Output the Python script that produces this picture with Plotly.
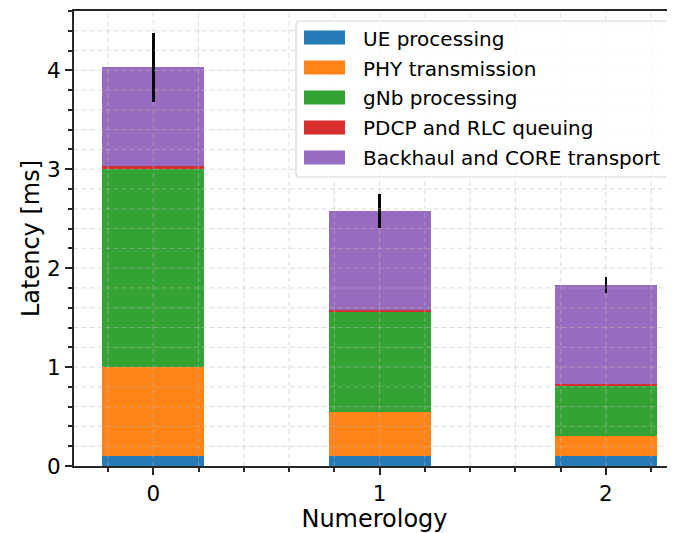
import plotly.graph_objects as go

numerology = [0, 1, 2]
tick_labels = ["0", "1", "2"]
ue_processing = [0.10, 0.10, 0.10]
phy_transmission = [0.90, 0.45, 0.20]
gnb_processing = [2.00, 1.01, 0.51]
pdcp_rlc_queuing = [0.03, 0.02, 0.02]
backhaul_core = [1.00, 1.00, 1.00]
total_error = [0.35, 0.17, 0.08]

series = [
    ("UE processing", ue_processing, "#1f77b4"),
    ("PHY transmission", phy_transmission, "#ff7f0e"),
    ("gNb processing", gnb_processing, "#2ca02c"),
    ("PDCP and RLC queuing", pdcp_rlc_queuing, "#d62728"),
    ("Backhaul and CORE transport", backhaul_core, "#9467bd"),
]
OPACITY = 0.97

# the page body has an 8px default margin: size the figure so it fills the window
OFF = 8
WIN_W, WIN_H = 675, 533
W, H = WIN_W - OFF, WIN_H - OFF
L, R, T, B = 74 - OFF, 0, 11 - OFF, 67
PW, PH = W - L - R, H - T - B
X_RANGE = [-0.35, 2.305]
Y_RANGE = [0, 4.6]


def px(x):  # window pixel -> paper x
    return (x - OFF - L) / PW


def py(y):  # window pixel -> paper y
    return (OFF + T + PH - y) / PH


fig = go.Figure()
for i, (name, vals, color) in enumerate(series):
    kw = {}
    if i == len(series) - 1:
        kw["error_y"] = dict(type="data", array=total_error, visible=True,
                             color="black", thickness=2.8, width=0)
    fig.add_trace(go.Bar(
        x=numerology, y=vals, name=name, width=0.45, showlegend=False,
        marker=dict(color=color, line=dict(width=0)), opacity=OPACITY, **kw))

# totals, used only to leave the error bars uncovered by the grid overlay
totals = [sum(s[1][j] for s in series) for j in range(len(numerology))]

# grid drawn above the bars (matplotlib default zorder)
GRID = dict(color="rgba(190,190,190,0.5)", width=1, dash="5px,3px")
shapes = []
gx = -0.2
while gx < X_RANGE[1]:
    if gx in numerology:
        j = numerology.index(gx)
        for a, b in [(Y_RANGE[0], totals[j] - total_error[j]), (totals[j] + total_error[j], Y_RANGE[1])]:
            shapes.append(dict(type="line", xref="x", yref="y", x0=gx, x1=gx, y0=a, y1=b,
                               line=GRID, layer="above"))
    else:
        shapes.append(dict(type="line", xref="x", yref="paper", x0=gx, x1=gx, y0=0, y1=1,
                           line=GRID, layer="above"))
    gx = round(gx + 0.2, 6)
gy = 0.2
while gy < Y_RANGE[1]:
    shapes.append(dict(type="line", xref="paper", yref="y", x0=0, x1=1, y0=gy, y1=gy,
                       line=GRID, layer="above"))
    gy = round(gy + 0.2, 6)

# custom legend (matplotlib style)
x0, x1, y0, y1, r = 296, 674, 21, 177, 4
path = (f"M {px(x0 + r)},{py(y0)} L {px(x1 - r)},{py(y0)} "
        f"Q {px(x1)},{py(y0)} {px(x1)},{py(y0 + r)} L {px(x1)},{py(y1 - r)} "
        f"Q {px(x1)},{py(y1)} {px(x1 - r)},{py(y1)} L {px(x0 + r)},{py(y1)} "
        f"Q {px(x0)},{py(y1)} {px(x0)},{py(y1 - r)} L {px(x0)},{py(y0 + r)} "
        f"Q {px(x0)},{py(y0)} {px(x0 + r)},{py(y0)} Z")
shapes.append(dict(type="path", xref="paper", yref="paper", path=path,
                   fillcolor="rgba(255,255,255,0.8)", line=dict(color="#d5d5d5", width=1.2),
                   layer="above"))
annotations = []
for k, (name, vals, color) in enumerate(series):
    cy = 37.5 + 30 * k
    shapes.append(dict(type="rect", xref="paper", yref="paper",
                       x0=px(304), x1=px(345), y0=py(cy - 7), y1=py(cy + 7),
                       fillcolor=color, opacity=OPACITY, line=dict(width=0), layer="above"))
    annotations.append(dict(xref="paper", yref="paper", x=px(361), y=py(cy + 1),
                            xanchor="left", yanchor="middle", text=name, showarrow=False,
                            font=dict(size=20, color="black")))

font = "DejaVu Sans, Arial, sans-serif"

fig.update_layout(
    barmode="stack",
    width=W, height=H,
    margin=dict(l=L, r=R, t=T, b=B),
    plot_bgcolor="white", paper_bgcolor="white",
    font=dict(family=font, size=21.5, color="black"),
    showlegend=False,
    shapes=shapes, annotations=annotations,
    bargap=0,
)
fig.update_xaxes(
    range=X_RANGE, tickmode="array", tickvals=numerology, ticktext=tick_labels,
    ticks="outside", ticklen=7, tickwidth=1.5, tickcolor="#262626",
    showline=True, linecolor="#262626", linewidth=1.8, mirror=True,
    title=dict(text="Numerology", font=dict(size=24), standoff=2),
    zeroline=False, showgrid=False,
    minor=dict(dtick=0.2, tick0=0, ticks="outside", ticklen=4, tickcolor="#262626", showgrid=False),
)
fig.update_yaxes(
    range=Y_RANGE, dtick=1, tick0=0,
    ticks="outside", ticklen=7, tickwidth=1.5, tickcolor="#262626",
    showline=True, linecolor="#262626", linewidth=1.8,
    title=dict(text="Latency [ms]", font=dict(size=24), standoff=1),
    zeroline=False, showgrid=False,
    minor=dict(dtick=0.2, tick0=0, ticks="outside", ticklen=4, tickcolor="#262626", showgrid=False),
)
fig.write_html("out.html")
